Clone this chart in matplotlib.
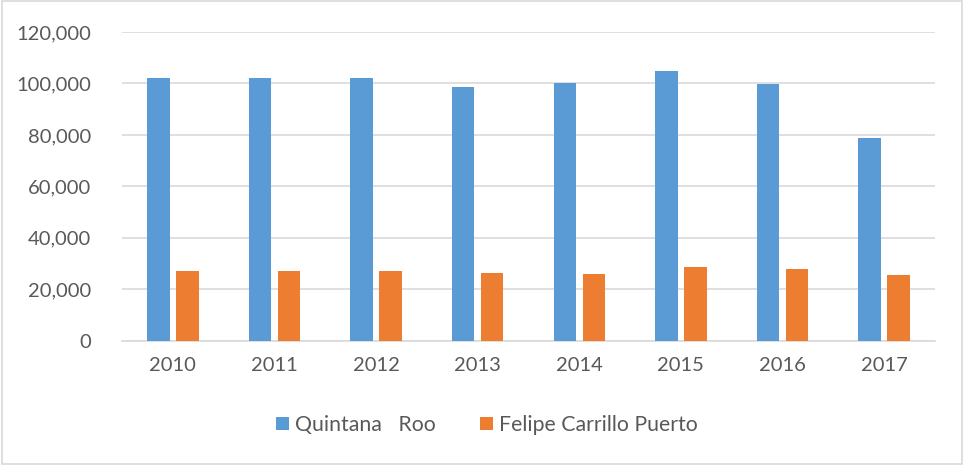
import matplotlib
matplotlib.use("Agg")
import matplotlib.pyplot as plt
from matplotlib.patches import Rectangle
from matplotlib.ticker import FuncFormatter
import numpy as np

years = ["2010", "2011", "2012", "2013", "2014", "2015", "2016", "2017"]
quintana_roo = [102200, 102200, 102200, 98600, 100300, 104900, 99600, 78700]
felipe_carrillo = [27100, 27100, 27000, 26300, 26100, 28500, 27800, 25400]
series_names = ["Quintana   Roo", "Felipe Carrillo Puerto"]

plt.rcParams['font.family'] = ['Lato', 'DejaVu Sans']
text_color = "#595959"
grid_color = "#d9d9d9"
blue = "#5B9BD5"
orange = "#ED7D31"
fs = 14.5

fig = plt.figure(figsize=(9.63, 4.65), dpi=100)
ax = fig.add_axes([122/963, 124.3/465, (935-122)/963, (340.7-32)/465])

x = np.arange(len(years))
w = 0.221
off = 0.143
ax.bar(x - off, quintana_roo, width=w, color=blue, label=series_names[0], zorder=3)
ax.bar(x + off, felipe_carrillo, width=w, color=orange, label=series_names[1], zorder=3)

ax.set_xlim(-0.5, len(years) - 0.5)
ax.set_ylim(0, 120000)
ax.set_yticks(np.arange(0, 120001, 20000))
ax.yaxis.set_major_formatter(FuncFormatter(lambda v, p: f"{int(v):,}"))
ax.set_xticks(x)
ax.set_xticklabels(years)
ax.grid(axis='y', color=grid_color, linewidth=1.2, zorder=0)
for s in ["top", "right", "left"]:
    ax.spines[s].set_visible(False)
ax.spines["bottom"].set_color(grid_color)
ax.spines["bottom"].set_linewidth(1.2)
ax.tick_params(axis='both', length=0, labelsize=fs, labelcolor=text_color)
ax.tick_params(axis='y', pad=22)
ax.tick_params(axis='x', pad=12)

leg = fig.legend(loc='center', bbox_to_anchor=(487/963, 1 - 425/465), ncol=2,
                 frameon=False, fontsize=15.3, handlelength=0.6, handleheight=0.6,
                 handletextpad=0.3, columnspacing=2.1, labelcolor=text_color)

fig.patches.append(Rectangle((1.5/963, 1.5/465), 960/963, 462/465, transform=fig.transFigure,
                             fill=False, edgecolor=grid_color, linewidth=1.2))

fig.savefig("out.png", dpi=100)
